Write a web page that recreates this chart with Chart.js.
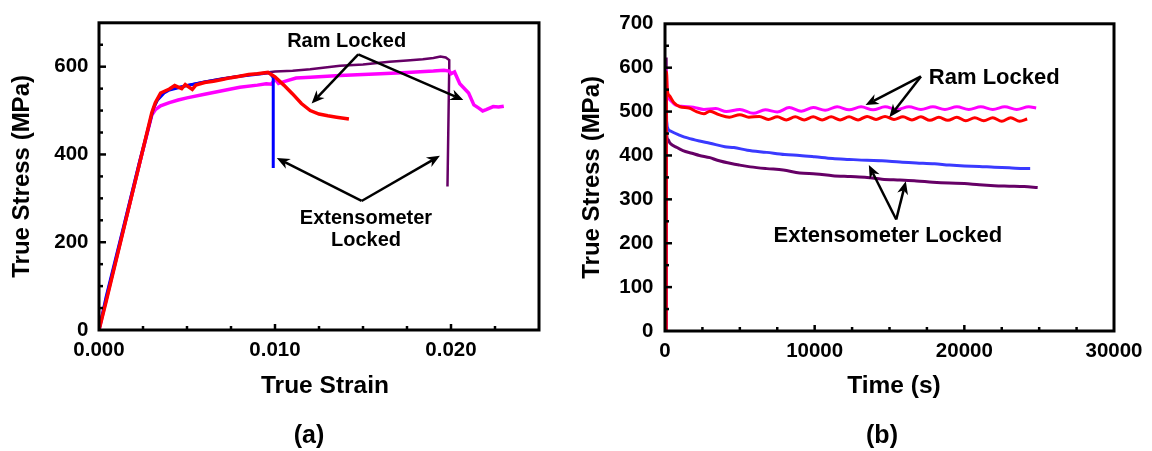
<!DOCTYPE html>
<html>
<head>
<meta charset="utf-8">
<script src="https://cdn.jsdelivr.net/npm/chart.js@4.4.0/dist/chart.umd.min.js"></script>
<style>
html, body { margin: 0; padding: 0; background: #fff; }
#wrap { position: relative; width: 1152px; height: 451px; }
.panel { position: absolute; top: 0; width: 576px; height: 451px; }
</style>
</head>
<body>
<div id="wrap">
  <div class="panel" style="left:0"><canvas id="chartA" width="576" height="451"></canvas></div>
  <div class="panel" style="left:576px"><canvas id="chartB" width="576" height="451"></canvas></div>
</div>
<script>
// ---- (a) stress vs strain ----
const strainTicks = [0, 0.010, 0.020];
const stressTicksA = [0, 200, 400, 600];

const redStrainA = [0, 0.0004, 0.0014, 0.0023, 0.0030, 0.0032, 0.0035, 0.0040, 0.0043, 0.0047, 0.0049, 0.0053, 0.0055, 0.0060, 0.0065, 0.0070, 0.0075, 0.0080, 0.0085, 0.0090, 0.0096, 0.0100, 0.0105, 0.0110, 0.0115, 0.0120, 0.0125, 0.0130, 0.0135, 0.0142];
const redStressA = [0, 64, 230, 379, 495, 518, 540, 549, 557, 550, 559, 548, 558, 564, 567, 571, 575, 578, 582, 584, 587, 577, 558, 538, 516, 500, 492, 488, 485, 481];

const blueStrainA = [0, 0.0004, 0.0014, 0.0023, 0.0031, 0.0033, 0.0037, 0.0040, 0.0050, 0.0060, 0.0070, 0.0080, 0.0090, 0.0097, 0.0099, 0.0099];
const blueStressA = [0, 75, 236, 383, 506, 523, 540, 547, 557, 565, 572, 578, 583, 586, 575, 369];

const magentaStrainA = [0, 0.0004, 0.0014, 0.0023, 0.0030, 0.0032, 0.0035, 0.0040, 0.0045, 0.0050, 0.0060, 0.0070, 0.0080, 0.0090, 0.0095, 0.0098, 0.0100, 0.0102, 0.0106, 0.0112, 0.0120, 0.0137, 0.0150, 0.0160, 0.0175, 0.0190, 0.0196, 0.0199, 0.0200, 0.0202, 0.0205, 0.0210, 0.0213, 0.0216, 0.0218, 0.0220, 0.0224, 0.0227, 0.0230];
const magentaStressA = [0, 68, 232, 380, 490, 502, 511, 518, 524, 529, 537, 545, 553, 558, 561, 560, 572, 562, 567, 574, 576, 580, 582, 584, 587, 590, 592, 590, 584, 588, 561, 540, 513, 505, 499, 502, 509, 508, 510];

const purpleStrainA = [0, 0.0031, 0.0035, 0.0040, 0.0050, 0.0060, 0.0070, 0.0080, 0.0090, 0.0100, 0.0110, 0.0120, 0.0137, 0.0150, 0.0165, 0.0175, 0.0184, 0.0190, 0.0194, 0.0197, 0.0199, 0.0199, 0.0198];
const purpleStressA = [0, 505, 538, 548, 557, 566, 573, 579, 584, 589, 591, 594, 602, 605, 611, 614, 617, 620, 623, 621, 615, 600, 327];

// ---- (b) stress vs time ----
const timeTicks = [0, 10000, 20000, 30000];
const stressTicksB = [0, 100, 200, 300, 400, 500, 600, 700];

const redTimeB = [80, 100, 150, 300, 600, 1000, 1600, 2100, 2600, 3000, 3600, 4300, 5000, 5600, 6300, 6900, 7500, 8100, 8700, 9300, 9900, 10500, 11100, 11700, 12300, 12900, 13500, 14100, 14700, 15300, 15900, 16500, 17100, 17700, 18300, 18900, 19500, 20100, 20700, 21300, 21900, 22500, 23100, 23700, 24200];
const redStressB = [0, 590, 550, 536, 520, 511, 508, 500, 495, 501, 493, 487, 493, 487, 489, 482, 488, 481, 488, 481, 488, 481, 488, 481, 488, 481, 489, 482, 489, 482, 488, 481, 488, 480, 487, 480, 487, 479, 486, 479, 486, 478, 486, 478, 483];

const magentaTimeB = [70, 80, 150, 300, 700, 1100, 1900, 2600, 3400, 4100, 5000, 5900, 6700, 7500, 8300, 9100, 9900, 10700, 11500, 12300, 13100, 13900, 14700, 15500, 16300, 17100, 17900, 18700, 19500, 20300, 21100, 21900, 22700, 23500, 24300, 24800];
const magentaStressB = [0, 598, 540, 528, 515, 512, 510, 505, 507, 500, 505, 496, 504, 499, 509, 501, 509, 503, 511, 504, 511, 504, 511, 505, 511, 505, 511, 505, 511, 505, 511, 505, 511, 505, 511, 508];

const blueTimeB = [70, 90, 150, 400, 1000, 1500, 2300, 3000, 4000, 4600, 5500, 6800, 8000, 9000, 10000, 11200, 12300, 13500, 14500, 15700, 16800, 18000, 19000, 20000, 21000, 22000, 23000, 24000, 24400];
const blueStressB = [0, 482, 465, 455, 446, 440, 433, 428, 420, 418, 412, 407, 402, 400, 397, 393, 391, 389, 388, 385, 383, 381, 378, 376, 375, 373, 372, 370, 370];

const purpleTimeB = [70, 80, 110, 200, 340, 800, 1200, 1800, 2300, 3000, 3500, 4500, 5000, 5700, 6800, 7900, 9000, 10100, 11200, 12400, 13500, 14500, 15700, 16800, 17900, 19000, 20000, 21000, 22000, 23000, 24000, 24900];
const purpleStressB = [0, 620, 450, 436, 428, 418, 411, 405, 400, 395, 389, 381, 378, 374, 370, 367, 360, 358, 354, 352, 350, 346, 344, 342, 339, 337, 336, 333, 331, 330, 329, 327];

const FONT = '"Liberation Sans", Arial, sans-serif';
const RED = '#ff0000', BLUE = '#0000ff', BLUE_B = '#3a3aff', MAGENTA = '#ff00ff', PURPLE = '#660066';

function pts(xs, ys) {
  return xs.map((x, i) => ({ x: x, y: ys[i] }));
}

function line(xs, ys, color, width, mode) {
  return {
    data: pts(xs, ys),
    borderColor: color,
    borderWidth: width,
    pointRadius: 0,
    showLine: true,
    fill: false,
    tension: mode ? 0.4 : 0,
    cubicInterpolationMode: mode || 'default'
  };
}

// frame, inward ticks, arrows and texts
const framePlugin = {
  id: 'frame',
  afterDatasetsDraw(chart, args, o) {
    const ctx = chart.ctx, a = chart.chartArea;
    const x = chart.scales.x, y = chart.scales.y;
    ctx.save();
    ctx.strokeStyle = '#000';
    ctx.lineCap = 'butt';

    ctx.lineWidth = 2.5;
    let n = Math.round((x.max - x.min) / o.xStep);
    for (let i = 1; i < n; i++) {
      const v = x.min + i * o.xStep;
      const px = x.getPixelForValue(v);
      const big = o.xMajor.some(m => Math.abs(m - v) < o.xStep / 10);
      ctx.beginPath();
      ctx.moveTo(px, a.bottom);
      ctx.lineTo(px, a.bottom - (big ? 6 : 4));
      ctx.stroke();
    }
    n = Math.round((y.max - y.min) / o.yStep);
    for (let i = 1; i < n; i++) {
      const v = y.min + i * o.yStep;
      const py = y.getPixelForValue(v);
      const big = o.yMajor.some(m => Math.abs(m - v) < o.yStep / 10);
      ctx.beginPath();
      ctx.moveTo(a.left, py);
      ctx.lineTo(a.left + (big ? 7 : 4), py);
      ctx.stroke();
    }

    ctx.lineWidth = 3;
    ctx.strokeRect(a.left, a.top, a.right - a.left, a.bottom - a.top);

    // arrows
    ctx.fillStyle = '#000';
    ctx.lineWidth = 2.5;
    o.arrows.forEach(ar => {
      const x0 = x.getPixelForValue(ar[0]), y0 = y.getPixelForValue(ar[1]);
      const x1 = x.getPixelForValue(ar[2]), y1 = y.getPixelForValue(ar[3]);
      const ang = Math.atan2(y1 - y0, x1 - x0);
      const c = Math.cos(ang), s = Math.sin(ang);
      const L = 13, W = 5.5;
      ctx.beginPath();
      ctx.moveTo(x0, y0);
      ctx.lineTo(x1 - c * L * 0.7, y1 - s * L * 0.7);
      ctx.stroke();
      ctx.beginPath();
      ctx.moveTo(x1, y1);
      ctx.lineTo(x1 - c * L - s * W, y1 - s * L + c * W);
      ctx.lineTo(x1 - c * L * 0.7, y1 - s * L * 0.7);
      ctx.lineTo(x1 - c * L + s * W, y1 - s * L - c * W);
      ctx.closePath();
      ctx.fill();
    });

    ctx.textAlign = 'center';
    ctx.textBaseline = 'middle';
    o.notes.forEach(nt => {
      ctx.font = 'bold ' + nt[3] + 'px ' + FONT;
      ctx.fillText(nt[0], x.getPixelForValue(nt[1]), y.getPixelForValue(nt[2]));
    });

    // x-axis title and panel letter
    ctx.font = 'bold 24.5px ' + FONT;
    ctx.fillText(o.xTitle, o.xTitleX, 386);
    ctx.font = 'bold 25px ' + FONT;
    ctx.fillText(o.panel, o.panelX, 436);
    ctx.restore();
  }
};

function axisFont(size) {
  return { family: FONT, size: size, weight: 'bold' };
}

function makeChart(id, datasets, cfg) {
  return new Chart(document.getElementById(id), {
    type: 'scatter',
    data: { datasets: datasets },
    plugins: [framePlugin],
    options: {
      responsive: false,
      animation: false,
      layout: { padding: { top: cfg.top, right: cfg.right, bottom: 0, left: 0 } },
      plugins: {
        legend: { display: false },
        tooltip: { enabled: false },
        frame: cfg.frame
      },
      scales: {
        x: {
          type: 'linear', min: cfg.xMin, max: cfg.xMax,
          grid: { display: false, drawTicks: false },
          border: { display: false },
          afterBuildTicks: s => { s.ticks = cfg.xTicks.map(v => ({ value: v })); },
          afterFit: s => { s.height = 451 - cfg.bottom; },
          ticks: { color: '#000', font: axisFont(20.5), padding: 8, maxRotation: 0, autoSkip: false, callback: cfg.xFmt }
        },
        y: {
          type: 'linear', min: 0, max: 700,
          grid: { display: false, drawTicks: false },
          border: { display: false },
          afterBuildTicks: s => { s.ticks = cfg.yTicks.map(v => ({ value: v })); },
          afterFit: s => { s.width = cfg.yWidth; },
          ticks: { color: '#000', font: axisFont(20.5), padding: cfg.yPad, autoSkip: false, callback: v => String(v) },
          title: { display: true, text: 'True Stress (MPa)', color: '#000', font: axisFont(24), padding: { top: cfg.yTitlePad, bottom: 0 } }
        }
      }
    }
  });
}

makeChart('chartA', [
  line(redStrainA, redStressA, RED, 3.5),
  line(blueStrainA, blueStressA, BLUE, 3),
  line(magentaStrainA, magentaStressA, MAGENTA, 3.5),
  line(purpleStrainA, purpleStressA, PURPLE, 2.5)
], {
  top: 14, right: 37, bottom: 330, yWidth: 99, yPad: 10.5, yTitlePad: 8,
  xMin: 0, xMax: 0.025, xTicks: strainTicks, yTicks: stressTicksA,
  xFmt: v => v.toFixed(3),
  frame: {
    xStep: 0.0025, yStep: 50, xMajor: strainTicks, yMajor: stressTicksA,
    xTitle: 'True Strain', xTitleX: 325, panel: '(a)', panelX: 309,
    arrows: [
      [0.01473, 628, 0.01208, 516], [0.01473, 628, 0.0207, 524],
      [0.01492, 294, 0.0101, 392], [0.01492, 294, 0.01937, 397]
    ],
    notes: [
      ['Ram Locked', 0.01407, 657, 20],
      ['Extensometer', 0.01517, 253, 20],
      ['Locked', 0.01517, 204, 20]
    ]
  }
});

makeChart('chartB', [
  line(redTimeB, redStressB, RED, 3, 'monotone'),
  line(magentaTimeB, magentaStressB, MAGENTA, 3, 'monotone'),
  line(blueTimeB, blueStressB, BLUE_B, 3, 'monotone'),
  line(purpleTimeB, purpleStressB, PURPLE, 3, 'monotone')
], {
  top: 16, right: 38, bottom: 331, yWidth: 89, yPad: 11.5, yTitlePad: 1.5,
  xMin: 0, xMax: 30000, xTicks: timeTicks, yTicks: stressTicksB,
  xFmt: v => String(v),
  frame: {
    xStep: 2500, yStep: 50, xMajor: timeTicks, yMajor: stressTicksB,
    xTitle: 'Time (s)', xTitleX: 318, panel: '(b)', panelX: 306,
    arrows: [
      [17100, 580, 13400, 515], [17100, 580, 14990, 487],
      [15450, 254, 13620, 378], [15450, 254, 16090, 341]
    ],
    notes: [
      ['Ram Locked', 22000, 576, 22],
      ['Extensometer Locked', 14890, 217, 22]
    ]
  }
});
</script>
</body>
</html>
